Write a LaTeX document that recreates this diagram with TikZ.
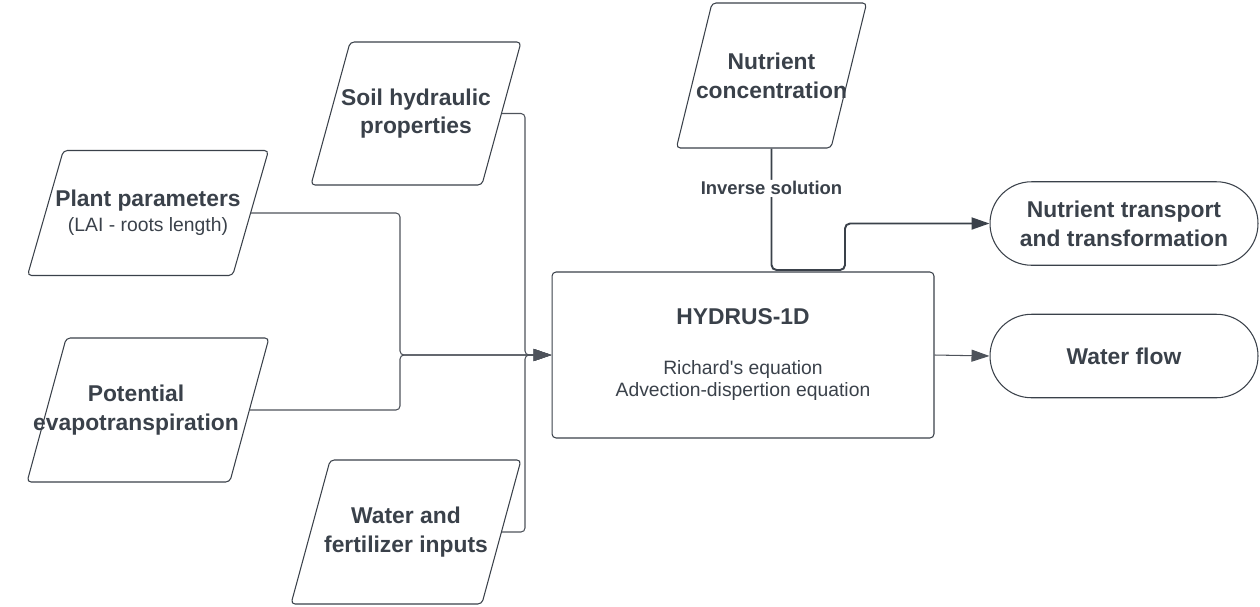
\documentclass[tikz,border=0pt]{standalone}
\usepackage{fontspec}
\setmainfont{Liberation Sans}
\usetikzlibrary{shapes.geometric,arrows.meta,positioning,calc}
\definecolor{inkgray}{HTML}{3A414A}
\definecolor{linegray}{HTML}{4E535B}

\tikzset{
  dataio/.style={trapezium, trapezium left angle=52, trapezium right angle=128,
    trapezium stretches body=true, draw=inkgray, line width=0.6pt, rounded corners=0.08cm,
    align=center, inner ysep=0pt, text=inkgray,
    font=\fontsize{13}{16.4}\selectfont\bfseries},
  model/.style={rectangle, draw=inkgray, line width=0.6pt, rounded corners=0.08cm,
    align=center, text=inkgray, minimum width=7.64cm, minimum height=3.32cm,
    font=\fontsize{11}{13}\selectfont},
  result/.style={rectangle, draw=inkgray, line width=0.6pt, rounded corners=0.83cm,
    align=center, text=inkgray, minimum width=5.36cm, minimum height=1.67cm,
    font=\fontsize{13}{16.4}\selectfont\bfseries},
  feed/.style={draw=linegray, line width=0.6pt, rounded corners=0.08cm,
    -{Triangle[length=0.36cm, width=0.24cm]}},
  solve/.style={draw=inkgray, line width=1.1pt, rounded corners=0.1cm,
    -{Triangle[length=0.36cm, width=0.24cm]}},
  lbl/.style={fill=white, text=inkgray, inner sep=1pt,
    font=\fontsize{10.5}{12}\selectfont\bfseries}
}

\begin{document}
\begin{tikzpicture}[x=0.02cm, y=-0.02cm]
\useasboundingbox (0,0) rectangle (1260,606);

% input data (negative xsep: text may touch the slanted sides)
\node[dataio, inner xsep=-0.18cm, minimum height=2.86cm] (soil) at (416,113.5) {Soil hydraulic\\properties};
\node[dataio, inner xsep=-0.16cm, minimum height=2.5cm] (plant) at (148,213) {Plant parameters\\[-2pt]{\fontsize{11}{13}\selectfont\mdseries (LAI - roots length)}};
\node[dataio, inner xsep=-0.66cm, minimum height=2.88cm] (pet) at (148,410) {Potential\hspace*{0.48cm}\\evapotranspiration\hspace*{0.48cm}};
\node[dataio, inner xsep=-0.12cm, minimum height=2.88cm] (wf) at (406,532) {Water and\\fertilizer inputs};
\node[dataio, inner xsep=-0.32cm, minimum height=2.9cm] (nutconc) at (771.5,75.5) {Nutrient\\concentration};

% model
\node[model] (hydrus) at (743,355) {{\fontsize{13}{13}\selectfont\bfseries HYDRUS-1D}\\[15pt]Richard\textquotesingle s equation\\Advection-dispertion equation};

% outputs
\node[result] (nuttrans) at (1124,223.5) {Nutrient transport\\and transformation};
\node[result] (water) at (1124,356) {Water flow};

% joins
\coordinate (joinL) at (400,355);
\coordinate (joinR) at (525,355);
\coordinate (bendA) at (845,270);

\draw[feed] (plant.east) -| (joinL) -- (hydrus.west);
\draw[feed] (pet.east) -| (joinL) -- (hydrus.west);
\draw[feed] (soil.east) -| (joinR) -- (hydrus.west);
\draw[feed] (wf.east) -| (joinR) -- (hydrus.west);

\draw[solve] (nutconc.south) |- node[lbl, pos=0.164] {Inverse solution} (bendA) |- (nuttrans.west);
\draw[feed] (hydrus.east) -- (water.west);
\end{tikzpicture}
\end{document}
